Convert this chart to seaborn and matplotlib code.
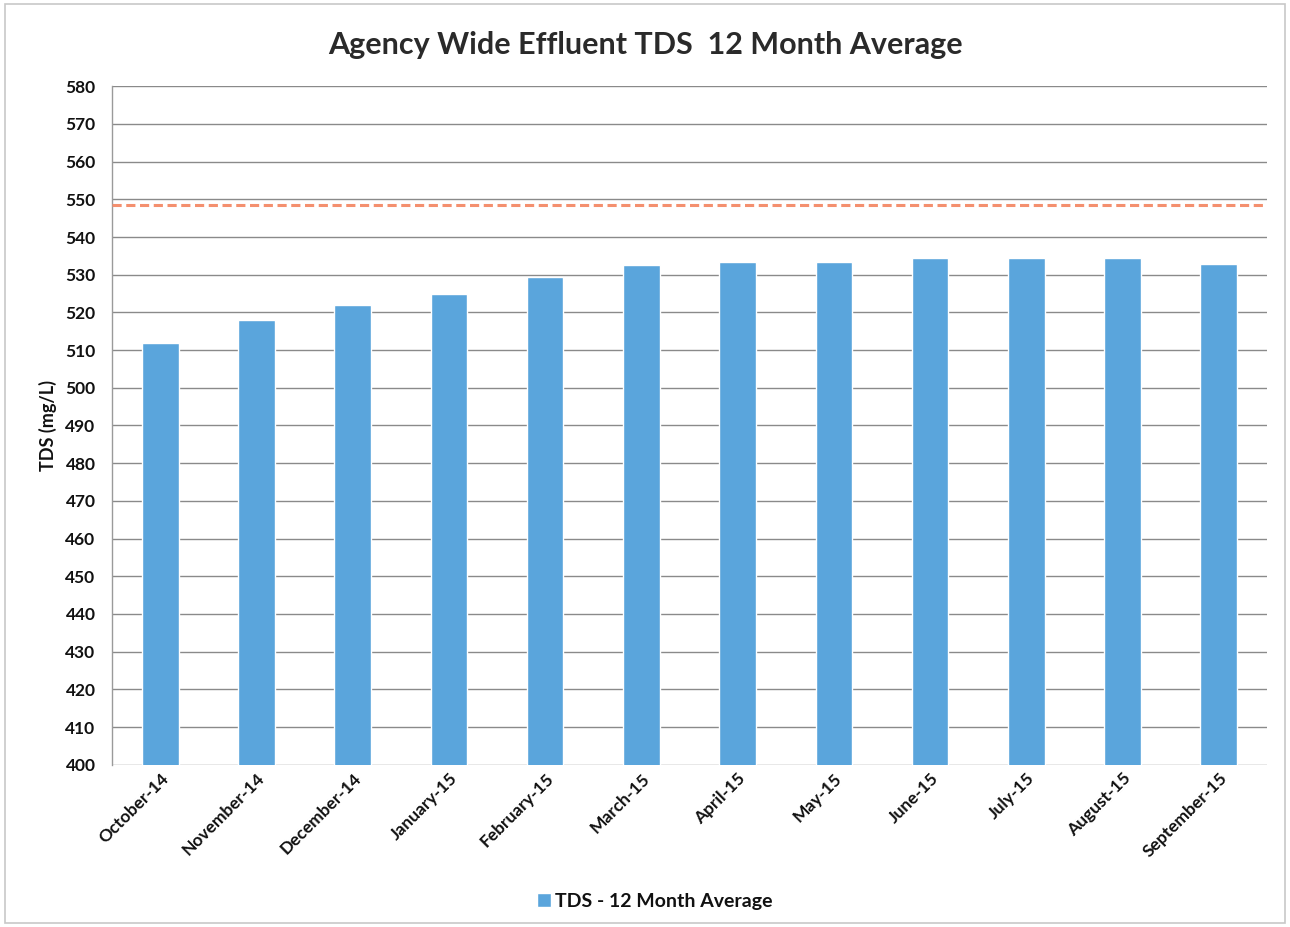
import matplotlib
matplotlib.use("Agg")
import matplotlib.pyplot as plt
import seaborn as sns
import pandas as pd

months = ["October-14", "November-14", "December-14", "January-15", "February-15",
          "March-15", "April-15", "May-15", "June-15", "July-15", "August-15",
          "September-15"]
tds_avg = [512, 518, 522, 525, 529.4, 532.5, 533.3, 533.3, 534.4, 534.4, 534.4, 532.8]
tds_limit = 548.5
y_ticks = list(range(400, 581, 10))

df = pd.DataFrame({"Month": months, "TDS - 12 Month Average": tds_avg})

sns.set_theme(style="white")
plt.rcParams["font.family"] = ["Lato", "DejaVu Sans"]

fig = plt.figure(figsize=(12.9, 9.27), dpi=100)
ax = fig.add_axes([0.087, 0.175, 0.895, 0.732])

sns.barplot(data=df, x="Month", y="TDS - 12 Month Average", color="#5AA5DC",
            width=0.38, saturation=1, ax=ax, label="TDS - 12 Month Average")

ax.axhline(tds_limit, color="#F4906F", linestyle=(0, (3, 1.5)), linewidth=2.2, zorder=3)

ax.set_ylim(400, 580)
ax.set_xlim(-0.5, len(months) - 0.5)
ax.set_yticks(y_ticks)
ax.yaxis.grid(True, color="#8a8a8a", linewidth=1.0)
ax.set_axisbelow(True)
for side in ["top", "right", "bottom"]:
    ax.spines[side].set_visible(False)
ax.spines["left"].set_color("#9a9a9a")
ax.spines["left"].set_linewidth(1.0)

ax.tick_params(axis="y", labelsize=12.5, length=0, pad=12, labelcolor="#111111")
ax.tick_params(axis="x", labelsize=12.5, length=0, pad=4, labelcolor="#111111")
for lbl in ax.get_yticklabels():
    lbl.set_fontweight("bold")
plt.setp(ax.get_xticklabels(), rotation=45, ha="right", rotation_mode="anchor",
         fontweight="bold")

ax.set_xlabel("")
ax.set_ylabel("TDS (mg/L)", fontsize=13, fontweight="bold", labelpad=6, color="#111111")
fig.suptitle("Agency Wide Effluent TDS  12 Month Average", fontsize=22,
             fontweight="bold", color="#2a2a2a", y=0.967, x=0.5)

ax.legend(loc="upper center", bbox_to_anchor=(0.47, -0.163), frameon=False,
          handlelength=0.7, handleheight=0.7, handletextpad=0.2,
          prop={"weight": "bold", "size": 14}, labelcolor="#111111")

# outer chart frame
fig.patches.append(plt.Rectangle((0.004, 0.004), 0.992, 0.992, transform=fig.transFigure,
                                 fill=False, edgecolor="#c8c8c8", linewidth=1.2))

fig.savefig("out.png", dpi=100, facecolor="white")
